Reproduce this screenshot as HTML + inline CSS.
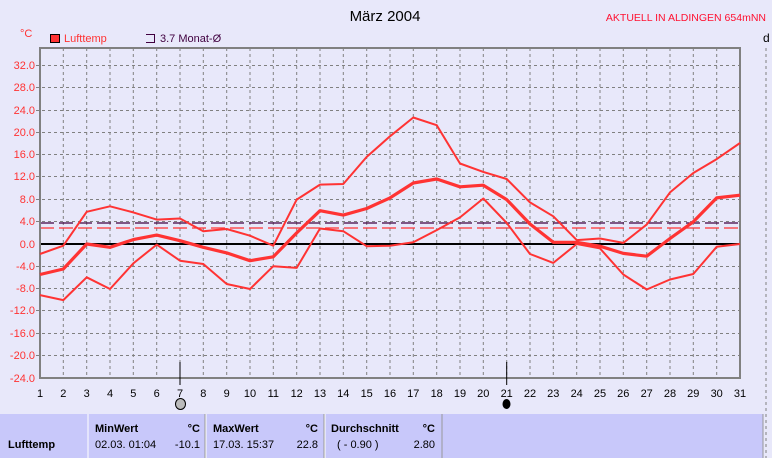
<!DOCTYPE html>
<html><head><meta charset="utf-8"><style>
body{margin:0;width:772px;height:458px;overflow:hidden;background:#e8e8fa;font-family:"Liberation Sans",sans-serif;}
</style></head><body>
<svg width="772" height="458" xmlns="http://www.w3.org/2000/svg" style="position:absolute;left:0;top:0">
<rect width="772" height="458" fill="#e8e8fa"/>
<text x="385" y="21" font-size="15" text-anchor="middle" fill="#000">März 2004</text>
<text x="766" y="21" font-size="10.5" text-anchor="end" fill="#ff1030">AKTUELL IN ALDINGEN 654mNN</text>
<text x="20" y="37" font-size="11" fill="#ff3333">°C</text>
<rect x="50.5" y="34.5" width="9" height="8" fill="#ff3333" stroke="#000"/>
<text x="64" y="42" font-size="11" fill="#ff3333">Lufttemp</text>
<path d="M146,34.5 H154.5 V42.5 H146" fill="none" stroke="#400040"/>
<text x="160" y="42" font-size="11" fill="#400040">3.7 Monat-Ø</text>
<text x="763" y="42" font-size="12" fill="#000">d</text>
<g stroke="#808080" stroke-dasharray="3,3" stroke-width="1">
<line x1="766" y1="48" x2="766" y2="458"/>
</g>
<g stroke="#808080" stroke-width="1" stroke-dasharray="3,3">
<line x1="63.3" y1="48" x2="63.3" y2="378"/><line x1="86.7" y1="48" x2="86.7" y2="378"/><line x1="110" y1="48" x2="110" y2="378"/><line x1="133.3" y1="48" x2="133.3" y2="378"/><line x1="156.7" y1="48" x2="156.7" y2="378"/><line x1="180" y1="48" x2="180" y2="378"/><line x1="203.3" y1="48" x2="203.3" y2="378"/><line x1="226.7" y1="48" x2="226.7" y2="378"/><line x1="250" y1="48" x2="250" y2="378"/><line x1="273.3" y1="48" x2="273.3" y2="378"/><line x1="296.7" y1="48" x2="296.7" y2="378"/><line x1="320" y1="48" x2="320" y2="378"/><line x1="343.3" y1="48" x2="343.3" y2="378"/><line x1="366.7" y1="48" x2="366.7" y2="378"/><line x1="390" y1="48" x2="390" y2="378"/><line x1="413.3" y1="48" x2="413.3" y2="378"/><line x1="436.7" y1="48" x2="436.7" y2="378"/><line x1="460" y1="48" x2="460" y2="378"/><line x1="483.3" y1="48" x2="483.3" y2="378"/><line x1="506.7" y1="48" x2="506.7" y2="378"/><line x1="530" y1="48" x2="530" y2="378"/><line x1="553.3" y1="48" x2="553.3" y2="378"/><line x1="576.7" y1="48" x2="576.7" y2="378"/><line x1="600" y1="48" x2="600" y2="378"/><line x1="623.3" y1="48" x2="623.3" y2="378"/><line x1="646.7" y1="48" x2="646.7" y2="378"/><line x1="670" y1="48" x2="670" y2="378"/><line x1="693.3" y1="48" x2="693.3" y2="378"/><line x1="716.7" y1="48" x2="716.7" y2="378"/>
<line x1="36" y1="65.5" x2="740" y2="65.5"/><line x1="36" y1="87.5" x2="740" y2="87.5"/><line x1="36" y1="110.5" x2="740" y2="110.5"/><line x1="36" y1="132.5" x2="740" y2="132.5"/><line x1="36" y1="154.5" x2="740" y2="154.5"/><line x1="36" y1="176.5" x2="740" y2="176.5"/><line x1="36" y1="199.5" x2="740" y2="199.5"/><line x1="36" y1="221.5" x2="740" y2="221.5"/><line x1="36" y1="266.5" x2="740" y2="266.5"/><line x1="36" y1="288.5" x2="740" y2="288.5"/><line x1="36" y1="310.5" x2="740" y2="310.5"/><line x1="36" y1="333.5" x2="740" y2="333.5"/><line x1="36" y1="355.5" x2="740" y2="355.5"/>
</g>
<line x1="40" y1="244" x2="740" y2="244" stroke="#000" stroke-width="2"/>
<line x1="40" y1="223" x2="740" y2="223" stroke="#400040" stroke-width="1.3" stroke-dasharray="14,5"/>
<line x1="40" y1="228" x2="740" y2="228" stroke="#ff3333" stroke-width="1.3" stroke-dasharray="14,5"/>
<path d="M40,48 H740 V378 H40 Z" fill="none" stroke="#808080" stroke-width="2"/>
<g fill="none" stroke="#ff3333" stroke-linejoin="round">
<polyline stroke-width="2" points="40,254 63.3,245.7 86.7,211.8 110,206.3 133.3,212.4 156.7,219.6 180,218.5 203.3,231.2 226.7,229 250,235.7 273.3,245.7 296.7,199.6 320,184.6 343.3,184 366.7,156.9 390,136.3 413.3,117.5 436.7,125.2 460,163.5 483.3,171.9 506.7,179 530,202.4 553.3,216.3 576.7,240.1 600,238.5 623.3,242.9 646.7,224.6 670,192.4 693.3,173 716.7,159.1 740,143"/>
<polyline stroke-width="3.2" points="40,274.5 63.3,269 86.7,244 110,247.3 133.3,239.6 156.7,235.1 180,240.7 203.3,247.3 226.7,252.9 250,260.7 273.3,256.8 296.7,232.9 320,210.7 343.3,215.1 366.7,208.5 390,197.9 413.3,183 436.7,179 460,186.8 483.3,185.2 506.7,199.6 530,224 553.3,242.3 576.7,242.3 600,246.2 623.3,253.4 646.7,256.2 670,238.5 693.3,221.8 716.7,197.9 740,195.2"/>
<polyline stroke-width="2" points="40,295.1 63.3,300.1 86.7,277.3 110,289 133.3,263.4 156.7,244.6 180,260.7 203.3,264 226.7,284 250,289 273.3,266.2 296.7,267.9 320,228.5 343.3,231.2 366.7,246.2 390,245.7 413.3,242.3 436.7,230.1 460,217.4 483.3,198.5 506.7,222.9 530,254 553.3,262.9 576.7,244 600,248.4 623.3,274.5 646.7,289.5 670,279.5 693.3,274 716.7,246.8 740,244"/>
</g>
<g font-size="11" fill="#ff3333" text-anchor="end">
<text x="35" y="69">32.0</text><text x="35" y="91">28.0</text><text x="35" y="114">24.0</text><text x="35" y="136">20.0</text><text x="35" y="158">16.0</text><text x="35" y="180">12.0</text><text x="35" y="203">8.0</text><text x="35" y="225">4.0</text><text x="35" y="248">0.0</text><text x="35" y="270">-4.0</text><text x="35" y="292">-8.0</text><text x="35" y="314">-12.0</text><text x="35" y="337">-16.0</text><text x="35" y="359">-20.0</text><text x="35" y="382">-24.0</text>
</g>
<line x1="180" y1="362" x2="180" y2="385" stroke="#000"/>
<line x1="506.7" y1="362" x2="506.7" y2="385" stroke="#000"/>
<g font-size="11" fill="#000" text-anchor="middle">
<text x="40" y="397">1</text><text x="63.3" y="397">2</text><text x="86.7" y="397">3</text><text x="110" y="397">4</text><text x="133.3" y="397">5</text><text x="156.7" y="397">6</text><text x="180" y="397">7</text><text x="203.3" y="397">8</text><text x="226.7" y="397">9</text><text x="250" y="397">10</text><text x="273.3" y="397">11</text><text x="296.7" y="397">12</text><text x="320" y="397">13</text><text x="343.3" y="397">14</text><text x="366.7" y="397">15</text><text x="390" y="397">16</text><text x="413.3" y="397">17</text><text x="436.7" y="397">18</text><text x="460" y="397">19</text><text x="483.3" y="397">20</text><text x="506.7" y="397">21</text><text x="530" y="397">22</text><text x="553.3" y="397">23</text><text x="576.7" y="397">24</text><text x="600" y="397">25</text><text x="623.3" y="397">26</text><text x="646.7" y="397">27</text><text x="670" y="397">28</text><text x="693.3" y="397">29</text><text x="716.7" y="397">30</text><text x="740" y="397">31</text>
</g>
<ellipse cx="180.5" cy="404" rx="5" ry="5.5" fill="#bbb" stroke="#000"/>
<ellipse cx="506.5" cy="404" rx="4" ry="5" fill="#000"/>
<rect x="0" y="414" width="763" height="44" fill="#c8c8fa"/>
<line x1="763" y1="414" x2="763" y2="458" stroke="#999"/>
<line x1="88" y1="414" x2="88" y2="458" stroke="#fff"/>
<line x1="205" y1="414" x2="205" y2="458" stroke="#999"/>
<line x1="206" y1="414" x2="206" y2="458" stroke="#fff"/>
<line x1="324" y1="414" x2="324" y2="458" stroke="#999"/>
<line x1="325" y1="414" x2="325" y2="458" stroke="#fff"/>
<line x1="442" y1="414" x2="442" y2="458" stroke="#999"/>
<g font-size="11" fill="#000">
<text x="8" y="448" font-weight="bold">Lufttemp</text>
<text x="95" y="432" font-weight="bold">MinWert</text><text x="200" y="432" text-anchor="end" font-weight="bold">°C</text>
<text x="95" y="448">02.03.  01:04</text><text x="200" y="448" text-anchor="end">-10.1</text>
<text x="213" y="432" font-weight="bold">MaxWert</text><text x="318" y="432" text-anchor="end" font-weight="bold">°C</text>
<text x="213" y="448">17.03.  15:37</text><text x="318" y="448" text-anchor="end">22.8</text>
<text x="331" y="432" font-weight="bold">Durchschnitt</text><text x="435" y="432" text-anchor="end" font-weight="bold">°C</text>
<text x="337" y="448">( - 0.90 )</text><text x="435" y="448" text-anchor="end">2.80</text>
</g>
</svg>
</body></html>
